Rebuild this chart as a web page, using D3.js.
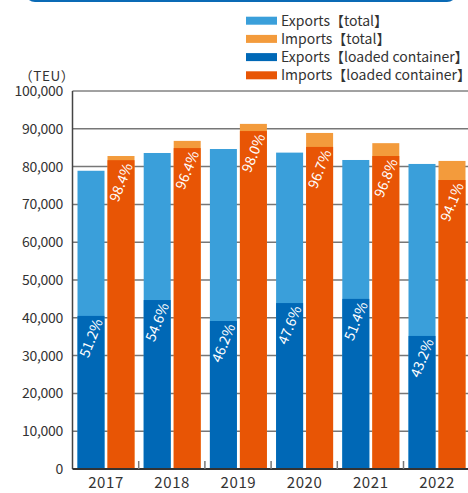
<!DOCTYPE html>
<html>
<head>
<meta charset="utf-8">
<script src="https://cdn.jsdelivr.net/npm/d3@7"></script>
<style>
  body { margin: 0; background: #fff; }
  text { font-family: "Noto Sans CJK JP", "Noto Sans", sans-serif; }
</style>
</head>
<body>
<div id="chart"></div>
<script>
var years = ["2017", "2018", "2019", "2020", "2021", "2022"];
var exportsTotal  = [78900, 83600, 84650, 83700, 81750, 80700];
var importsTotal  = [82800, 86800, 91300, 88900, 86200, 81500];
var exportsLoaded = [40500, 44700, 39150, 43900, 45000, 35200];
var importsLoaded = [81700, 84900, 89400, 85200, 82800, 76450];
var exportsShare = ["51.2%", "54.6%", "46.2%", "47.6%", "51.4%", "43.2%"];
var importsShare = ["98.4%", "96.4%", "98.0%", "96.7%", "96.8%", "94.1%"];
var yTicks = [0, 10000, 20000, 30000, 40000, 50000, 60000, 70000, 80000, 90000, 100000];

var legendNames = ["Exports【total】", "Imports【total】", "Exports【loaded container】", "Imports【loaded container】"];
var colors = ["#3a9fda", "#f39b3c", "#0068b6", "#e85505"];

var W = 468, H = 493;
var plotLeft = 72.5, plotTop = 91, plotBottom = 469;

var svg = d3.select("#chart").append("svg")
    .attr("width", W).attr("height", H);

// bit of the rounded box above the chart
svg.append("rect")
    .attr("x", 26).attr("y", -20).attr("width", 430).attr("height", 21)
    .attr("rx", 9).attr("fill", "#fff")
    .attr("stroke", "#0a6ab5").attr("stroke-width", 2);

var y = d3.scaleLinear().domain([0, 100000]).range([plotBottom, plotTop]);
var x = d3.scaleBand().domain(years).range([plotLeft, plotLeft + 6 * 66.2]);
var bw = 27;

// grid
svg.append("g").selectAll("line")
    .data(yTicks.slice(1))
    .enter().append("line")
    .attr("x1", plotLeft).attr("x2", W)
    .attr("y1", d => y(d)).attr("y2", d => y(d))
    .attr("stroke", d => d == 100000 ? "#444" : "#777")
    .attr("stroke-width", d => d == 100000 ? 1 : 1.5);

// y labels
svg.append("g").selectAll("text")
    .data(yTicks)
    .enter().append("text")
    .attr("x", 63).attr("y", d => y(d))
    .attr("dy", "0.36em")
    .attr("text-anchor", "end")
    .attr("font-size", 14)
    .attr("letter-spacing", -0.3)
    .attr("fill", "#333")
    .text(d => d3.format(",")(d));

svg.append("text")
    .attr("x", 47).attr("y", 76)
    .attr("dy", "0.36em")
    .attr("text-anchor", "middle")
    .attr("font-size", 13.5)
    .attr("letter-spacing", 0.5)
    .attr("fill", "#333")
    .text("（TEU）");

var idx = d3.range(years.length);
var g = svg.append("g");

function bars(vals, off, col) {
  g.selectAll(null)
    .data(idx)
    .enter().append("rect")
    .attr("x", i => x(years[i]) + off)
    .attr("width", bw)
    .attr("y", i => y(vals[i]))
    .attr("height", i => plotBottom - y(vals[i]))
    .attr("fill", col);
}
bars(exportsTotal, 5, colors[0]);
bars(exportsLoaded, 5, colors[2]);
bars(importsTotal, 35, colors[1]);
bars(importsLoaded, 35, colors[3]);

function labels(vals, txt, off) {
  g.selectAll(null)
    .data(idx)
    .enter().append("text")
    .attr("transform", i => "translate(" + (x(years[i]) + off + bw / 2) + "," + (y(vals[i]) + 22) + ") rotate(-68)")
    .attr("dy", "0.36em")
    .attr("text-anchor", "middle")
    .attr("font-size", 14)
    .attr("fill", "#fff")
    .text(i => txt[i]);
}
labels(exportsLoaded, exportsShare, 5);
labels(importsLoaded, importsShare, 35);

// axes
svg.append("line")
    .attr("x1", plotLeft).attr("x2", plotLeft).attr("y1", plotTop).attr("y2", plotBottom)
    .attr("stroke", "#444").attr("stroke-width", 1.5);
svg.append("line")
    .attr("x1", plotLeft).attr("x2", W).attr("y1", plotBottom).attr("y2", plotBottom)
    .attr("stroke", "#333").attr("stroke-width", 2);

svg.append("g").selectAll("line")
    .data(years.slice(1))
    .enter().append("line")
    .attr("x1", d => x(d)).attr("x2", d => x(d))
    .attr("y1", plotBottom).attr("y2", plotBottom - 8)
    .attr("stroke", "#777").attr("stroke-width", 1.5);

svg.append("g").selectAll("text")
    .data(years)
    .enter().append("text")
    .attr("x", d => x(d) + 33.5)
    .attr("y", 483)
    .attr("dy", "0.36em")
    .attr("text-anchor", "middle")
    .attr("font-size", 15)
    .attr("letter-spacing", 0.6)
    .attr("fill", "#333")
    .text(d => d);

// legend
var leg = svg.append("g").selectAll("g")
    .data(legendNames)
    .enter().append("g")
    .attr("transform", (d, i) => "translate(246," + (20.7 + i * 18.2) + ")");
leg.append("rect")
    .attr("x", 0).attr("y", -4).attr("width", 31).attr("height", 8)
    .attr("fill", (d, i) => colors[i]);
leg.append("text")
    .attr("x", 35).attr("dy", "0.36em")
    .attr("font-size", 14)
    .attr("fill", "#333")
    .text(d => d);
</script>
</body>
</html>
